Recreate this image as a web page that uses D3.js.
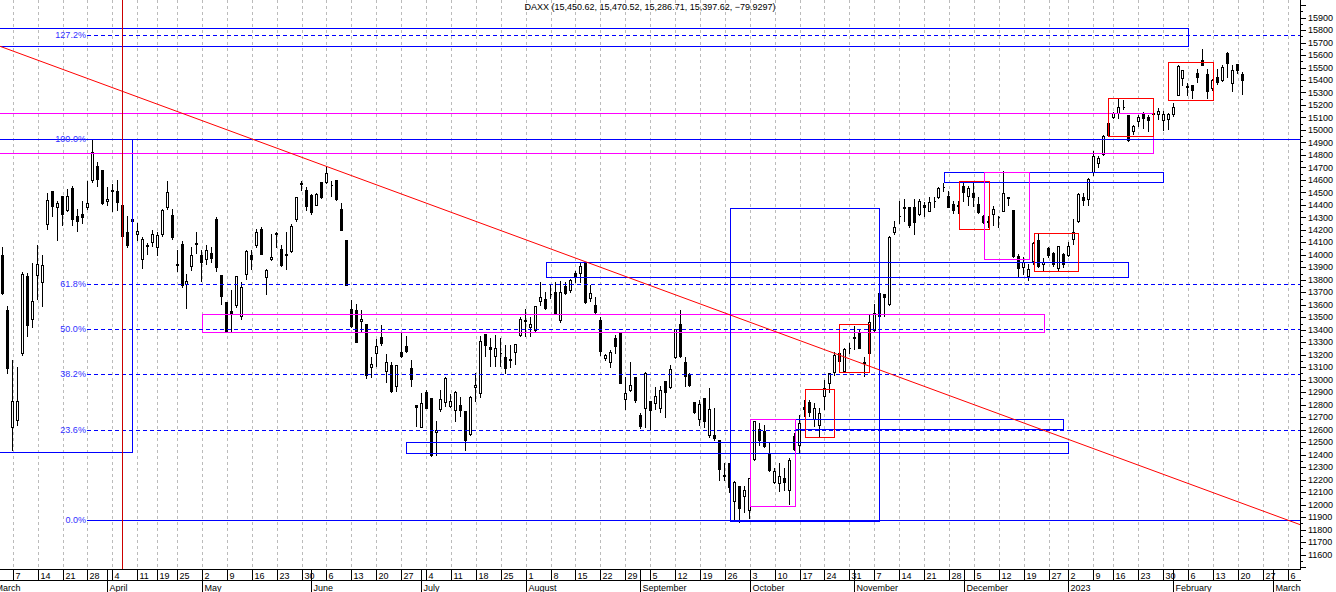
<!DOCTYPE html>
<html lang="en">
<head>
<meta charset="UTF-8">
<title>DAXX daily</title>
<style>
  body { margin: 0; background: #fff; }
  svg { display: block; font-family: "Liberation Sans", Arial, sans-serif; }
  .lbl { font-size: 9px; fill: #000; }
  .fib { font-size: 9px; fill: #2f2fff; }
</style>
</head>
<body>
<svg id="chart" width="1336" height="592"></svg>
<script src="https://d3js.org/d3.v7.min.js"></script>
<script>
// daily candles, one array per month: [day, open, high, low, close]
const mar22 = [
  [3, 13995, 14069, 13684, 13698], [4, 13560, 13600, 13050, 13094],
  [7, 12620, 13165, 12440, 12832], [8, 12680, 13110, 12640, 12831], [9, 13210, 13870, 13195, 13847],
  [10, 13830, 13860, 13350, 13442], [11, 13485, 13940, 13420, 13628],
  [14, 13840, 14090, 13650, 13929], [15, 13780, 14010, 13590, 13917], [16, 14250, 14500, 14205, 14440],
  [17, 14508, 14520, 14310, 14388], [18, 14385, 14440, 14120, 14413],
  [21, 14468, 14480, 14240, 14326], [22, 14362, 14535, 14350, 14474], [23, 14535, 14560, 14235, 14288],
  [24, 14314, 14376, 14190, 14274], [25, 14330, 14442, 14258, 14306],
  [28, 14384, 14600, 14370, 14417], [29, 14596, 14925, 14580, 14820], [30, 14713, 14748, 14548, 14606],
  [31, 14681, 14690, 14410, 14415]
];
const apr22 = [
  [1, 14430, 14548, 14400, 14446],
  [4, 14511, 14575, 14350, 14518], [5, 14508, 14607, 14362, 14424], [6, 14402, 14440, 14043, 14152],
  [7, 14182, 14322, 14060, 14078], [8, 14270, 14330, 14190, 14284],
  [11, 14168, 14262, 14117, 14193], [12, 13965, 14150, 13897, 14124], [13, 14070, 14101, 14003, 14076],
  [14, 14101, 14203, 14069, 14163],
  [19, 14064, 14190, 13995, 14157], [20, 14163, 14375, 14150, 14362], [21, 14384, 14602, 14370, 14502],
  [22, 14322, 14378, 14130, 14142],
  [25, 13915, 14043, 13870, 13924], [26, 14088, 14117, 13745, 13756], [27, 13764, 13857, 13578, 13793],
  [28, 13910, 14069, 13880, 14000], [29, 14090, 14190, 14017, 14098]
];
const may22 = [
  [2, 13995, 14043, 13790, 13940], [3, 13969, 14083, 13923, 14040], [4, 14016, 14070, 13940, 13971],
  [5, 14288, 14309, 13870, 13903], [6, 13836, 13845, 13604, 13674],
  [9, 13623, 13630, 13380, 13381], [10, 13551, 13724, 13378, 13535], [11, 13596, 13840, 13580, 13828],
  [12, 13511, 13790, 13490, 13739], [13, 13844, 14043, 13804, 14027],
  [16, 13995, 14043, 13883, 13964], [17, 14075, 14212, 14060, 14185], [18, 14203, 14230, 14003, 14008],
  [19, 13825, 13895, 13684, 13882], [20, 13969, 14171, 13960, 13982],
  [23, 14170, 14189, 14064, 14175], [24, 14043, 14083, 13910, 13919], [25, 14000, 14189, 13883, 14008],
  [26, 14030, 14256, 14020, 14231], [27, 14288, 14475, 14270, 14462],
  [30, 14570, 14596, 14517, 14575], [31, 14522, 14549, 14362, 14388]
];
const jun22 = [
  [1, 14482, 14495, 14330, 14340], [2, 14402, 14500, 14395, 14485], [3, 14580, 14588, 14455, 14460],
  [6, 14580, 14708, 14575, 14653], [7, 14560, 14596, 14469, 14556], [8, 14601, 14607, 14440, 14446],
  [9, 14368, 14420, 14195, 14198], [10, 14115, 14123, 13756, 13761],
  [13, 13570, 13650, 13420, 13427], [14, 13556, 13617, 13300, 13304], [15, 13470, 13564, 13378, 13483],
  [16, 13445, 13458, 13011, 13038], [17, 13099, 13192, 13019, 13126],
  [20, 13210, 13330, 13107, 13266], [21, 13338, 13450, 13280, 13292], [22, 13072, 13210, 12979, 13145],
  [23, 13120, 13152, 12905, 12912], [24, 12952, 13125, 12912, 13118],
  [27, 13224, 13383, 13180, 13186], [28, 13266, 13357, 13225, 13231], [29, 13091, 13165, 12952, 13003],
  [30, 12800, 12806, 12633, 12784]
];
const jul22 = [
  [1, 12625, 12899, 12620, 12813],
  [4, 12905, 12926, 12770, 12773], [5, 12851, 12860, 12390, 12401], [6, 12580, 12681, 12400, 12595],
  [7, 12766, 12926, 12750, 12843], [8, 12819, 13030, 12793, 13015],
  [11, 12793, 12890, 12780, 12832], [12, 12761, 12915, 12673, 12905], [13, 12798, 12870, 12710, 12756],
  [14, 12753, 12760, 12440, 12520], [15, 12567, 12880, 12560, 12864],
  [18, 12939, 13059, 12833, 12959], [19, 12891, 13359, 12860, 13308], [20, 13365, 13370, 13192, 13281],
  [21, 13262, 13338, 13112, 13246], [22, 13186, 13365, 13112, 13254],
  [25, 13215, 13338, 13112, 13210], [26, 13178, 13285, 13054, 13097], [27, 13160, 13285, 13099, 13166],
  [28, 13218, 13295, 13125, 13282], [29, 13359, 13511, 13346, 13484]
];
const aug22 = [
  [1, 13470, 13578, 13346, 13479], [2, 13426, 13511, 13346, 13449], [3, 13399, 13600, 13390, 13587],
  [4, 13631, 13790, 13596, 13662], [5, 13644, 13710, 13565, 13574],
  [8, 13690, 13777, 13657, 13687], [9, 13705, 13790, 13525, 13535], [10, 13476, 13798, 13463, 13700],
  [11, 13750, 13790, 13690, 13694], [12, 13716, 13817, 13705, 13795],
  [15, 13851, 13880, 13780, 13830], [16, 13857, 13940, 13780, 13910], [17, 13937, 13947, 13615, 13626],
  [18, 13652, 13764, 13630, 13697], [19, 13596, 13671, 13532, 13544],
  [22, 13476, 13511, 13197, 13231], [23, 13170, 13215, 13160, 13194], [24, 13139, 13245, 13099, 13221],
  [25, 13333, 13365, 13213, 13272], [26, 13378, 13385, 12970, 12971],
  [29, 12846, 13032, 12766, 12892], [30, 12920, 13152, 12910, 12961], [31, 13019, 13030, 12820, 12835]
];
const sep22 = [
  [1, 12718, 12740, 12612, 12631], [2, 12772, 13072, 12620, 13050],
  [5, 12827, 12833, 12600, 12761], [6, 12814, 12952, 12766, 12871], [7, 12772, 12958, 12740, 12915],
  [8, 12987, 12992, 12700, 12904], [9, 12939, 13125, 12930, 13088],
  [12, 13178, 13410, 13170, 13403], [13, 13445, 13570, 13180, 13189], [14, 13139, 13192, 12952, 13028],
  [15, 13045, 13060, 12950, 12956], [16, 12819, 12830, 12730, 12741],
  [19, 12686, 12845, 12640, 12803], [20, 12851, 12860, 12620, 12671], [21, 12559, 12939, 12540, 12767],
  [22, 12560, 12780, 12520, 12531], [23, 12514, 12527, 12194, 12284],
  [26, 12240, 12341, 12194, 12228], [27, 12335, 12340, 12100, 12140], [28, 12027, 12200, 11875, 12184],
  [29, 12149, 12160, 11862, 11976], [30, 12067, 12155, 11942, 12114]
];
const oct22 = [
  [3, 11960, 12220, 11894, 12209], [4, 12367, 12680, 12360, 12671], [5, 12607, 12660, 12474, 12517],
  [6, 12593, 12646, 12465, 12471], [7, 12415, 12500, 12265, 12273],
  [10, 12181, 12300, 12170, 12272], [11, 12173, 12341, 12107, 12229], [12, 12213, 12300, 12115, 12181],
  [13, 12115, 12380, 12008, 12359], [14, 12548, 12580, 12440, 12447],
  [17, 12474, 12727, 12420, 12652], [18, 12780, 12846, 12713, 12765], [19, 12819, 12846, 12713, 12745],
  [20, 12686, 12819, 12633, 12772], [21, 12641, 12780, 12553, 12732],
  [24, 12873, 13006, 12766, 12934], [25, 12971, 13065, 12900, 13052], [26, 13059, 13232, 13040, 13195],
  [27, 13152, 13250, 13140, 13211], [28, 13072, 13260, 13060, 13243],
  [31, 13250, 13300, 13210, 13253]
];
const nov22 = [
  [1, 13330, 13436, 13245, 13338], [2, 13373, 13405, 13250, 13257], [3, 13140, 13192, 13032, 13130],
  [4, 13210, 13538, 13200, 13460],
  [7, 13399, 13617, 13390, 13533], [8, 13511, 13700, 13500, 13692], [9, 13690, 13697, 13511, 13666],
  [10, 13609, 14160, 13600, 14146], [11, 14181, 14277, 14170, 14224],
  [14, 14310, 14442, 14256, 14313], [15, 14375, 14455, 14269, 14379], [16, 14381, 14390, 14225, 14235],
  [17, 14381, 14455, 14163, 14266], [18, 14328, 14455, 14320, 14431],
  [21, 14400, 14429, 14309, 14380], [22, 14354, 14468, 14348, 14422], [23, 14430, 14468, 14380, 14428],
  [24, 14461, 14550, 14455, 14539], [25, 14545, 14580, 14508, 14541],
  [28, 14474, 14522, 14380, 14383], [29, 14407, 14442, 14335, 14355], [30, 14390, 14442, 14335, 14397]
];
const dec22 = [
  [1, 14548, 14588, 14429, 14501], [2, 14474, 14562, 14402, 14535],
  [5, 14495, 14580, 14389, 14461], [6, 14410, 14474, 14335, 14343], [7, 14314, 14330, 14255, 14261],
  [8, 14270, 14322, 14220, 14264], [9, 14328, 14402, 14235, 14370],
  [12, 14300, 14322, 14220, 14306], [13, 14354, 14676, 14350, 14498], [14, 14455, 14474, 14400, 14460],
  [15, 14357, 14365, 13980, 13987], [16, 13990, 14011, 13830, 13893],
  [19, 13900, 13990, 13850, 13943], [20, 13830, 13937, 13797, 13885], [21, 13950, 14110, 13930, 14098],
  [22, 14115, 14176, 13905, 13914], [23, 13930, 13980, 13880, 13941],
  [27, 14051, 14070, 13980, 13995], [28, 14016, 14030, 13910, 13925], [29, 13897, 14075, 13880, 14071],
  [30, 14008, 14020, 13900, 13924]
];
const jan23 = [
  [2, 13998, 14110, 13990, 14069], [3, 14123, 14295, 14083, 14181], [4, 14274, 14500, 14265, 14490],
  [5, 14460, 14500, 14400, 14436], [6, 14450, 14620, 14402, 14610],
  [9, 14663, 14837, 14637, 14792], [10, 14738, 14797, 14700, 14775], [11, 14805, 14965, 14800, 14948],
  [12, 14957, 15090, 14950, 15058],
  [16, 15100, 15150, 15092, 15134], [17, 15138, 15256, 15092, 15187], [18, 15185, 15250, 15170, 15181],
  [19, 15122, 15130, 14912, 14920], [20, 14991, 15045, 14970, 15033],
  [23, 15072, 15130, 15034, 15103], [24, 15138, 15152, 15018, 15098], [25, 15104, 15125, 14995, 15082],
  [26, 15128, 15150, 15120, 15132], [27, 15127, 15180, 15086, 15150],
  [30, 15078, 15157, 14997, 15126], [31, 15086, 15144, 15005, 15128]
];
const feb23 = [
  [1, 15127, 15223, 15115, 15181], [2, 15282, 15530, 15276, 15509], [3, 15413, 15485, 15360, 15476],
  [6, 15355, 15383, 15282, 15345], [7, 15360, 15368, 15252, 15321], [8, 15456, 15500, 15383, 15421],
  [9, 15564, 15660, 15520, 15524], [10, 15448, 15500, 15258, 15308],
  [13, 15334, 15413, 15320, 15397], [14, 15427, 15500, 15370, 15380], [15, 15398, 15530, 15390, 15507],
  [16, 15616, 15631, 15427, 15538], [17, 15378, 15529, 15311, 15482],
  [20, 15529, 15535, 15455, 15477.5497], [21, 15450.62, 15470.52, 15286.71, 15397.62]
];
const months = [
  ["2022-03", mar22], ["2022-04", apr22], ["2022-05", may22], ["2022-06", jun22],
  ["2022-07", jul22], ["2022-08", aug22], ["2022-09", sep22], ["2022-10", oct22],
  ["2022-11", nov22], ["2022-12", dec22], ["2023-01", jan23], ["2023-02", feb23]
];

// trading days shown on the axis before and after the candles
const priorDays = ["2022-03-01", "2022-03-02"];
const futureDays = ["2023-02-22", "2023-02-23", "2023-02-24", "2023-02-27", "2023-02-28",
  "2023-03-01", "2023-03-02", "2023-03-03", "2023-03-06", "2023-03-07", "2023-03-08",
  "2023-03-09", "2023-03-10"];

// fibonacci retracement
const fibStart = "2022-03-28";
const fibLow = 11878, fibHigh = 14928;
const fibLevels = [1.272, 1, 0.618, 0.5, 0.382, 0.236, 0];
const fibNames = ["127.2%", "100.0%", "61.8%", "50.0%", "38.2%", "23.6%", "0.0%"];

// trend line through two highs, vertical marker
const trendPoints = [["2022-06-06", 14708], ["2022-08-17", 13945]];
const markerDay = "2022-04-06";

// boxes: [colour, from, to, top price, bottom price]
const boxes = [
  ["#0000ff", "2022-03-01", "2022-04-08", 14928, 12423],
  ["#0000ff", "2022-03-01", "2023-02-06", 15816, 15676],
  ["#ff00ff", "2022-03-01", "2023-01-26", 15133, 14813],
  ["#ff00ff", "2022-05-02", "2022-12-23", 13524, 13380],
  ["#0000ff", "2022-08-05", "2023-01-19", 13940, 13820],
  ["#0000ff", "2022-06-28", "2023-01-02", 12504, 12411],
  ["#0000ff", "2022-10-14", "2022-12-30", 12683, 12605],
  ["#0000ff", "2022-09-27", "2022-11-08", 14373, 11870],
  ["#ff00ff", "2022-10-03", "2022-10-14", 12683, 11989],
  ["#ff0000", "2022-10-18", "2022-10-26", 12925, 12539],
  ["#ff0000", "2022-10-27", "2022-11-04", 13444, 13059],
  ["#0000ff", "2022-11-25", "2023-01-30", 14661, 14583],
  ["#ff0000", "2022-11-30", "2022-12-08", 14591, 14204],
  ["#ff00ff", "2022-12-07", "2022-12-20", 14661, 13964],
  ["#ff0000", "2022-12-21", "2023-01-04", 14172, 13870],
  ["#ff0000", "2023-01-12", "2023-01-26", 15256, 14949],
  ["#ff0000", "2023-01-31", "2023-02-13", 15544, 15237]
];

// ---- build ----
const candles = [];
months.forEach(([ym, rows]) => rows.forEach(r => {
  candles.push({ date: ym + "-" + String(r[0]).padStart(2, "0"), o: r[1], h: r[2], l: r[3], c: r[4] });
}));
const days = priorDays.concat(candles.map(d => d.date), futureDays);
const idx = d => days.indexOf(d) - priorDays.length;

const plotW = 1300, plotH = 569;
const x = d3.scaleLinear().domain([0, candles.length - 1]).range([2.74, 1242.76]);
const y = d3.scaleLinear().domain([11600, 15900]).range([554.53, 17.55]);
const px = v => Math.round(v) + 0.5;

const svg = d3.select("#chart");
svg.append("rect").attr("width", 1336).attr("height", 592).attr("fill", "#fff");
svg.append("clipPath").attr("id", "plot")
  .append("rect").attr("width", plotW).attr("height", plotH);
const g = svg.append("g").attr("clip-path", "url(#plot)").attr("shape-rendering", "crispEdges");

// week / month starts
const parse = d3.timeParse("%Y-%m-%d");
const dayObjs = days.map((d, i) => ({ d: parse(d), i: i - priorDays.length }));
const weekStarts = dayObjs.filter((o, k) => k === 0 || +d3.timeMonday.floor(o.d) !== +d3.timeMonday.floor(dayObjs[k - 1].d));
const monthStarts = dayObjs.filter((o, k) => k === 0 || o.d.getMonth() !== dayObjs[k - 1].d.getMonth());

// vertical grid
g.append("g").selectAll("line").data(weekStarts).join("line")
  .attr("x1", o => px(x(o.i))).attr("x2", o => px(x(o.i)))
  .attr("y1", 0).attr("y2", plotH)
  .attr("stroke", "#bbbbbb").attr("stroke-dasharray", "3,3");

// candles
const cg = g.append("g");
candles.forEach((d, i) => {
  const cx = Math.floor(x(i)) + 0.5;
  cg.append("line").attr("x1", cx).attr("x2", cx)
    .attr("y1", px(y(d.h))).attr("y2", px(y(d.l))).attr("stroke", "#000");
  const top = px(y(Math.max(d.o, d.c))), bot = px(y(Math.min(d.o, d.c)));
  cg.append("path")
    .attr("d", `M${cx - 1},${top}H${cx + 1}V${bot}H${cx - 1}Z`)
    .attr("fill", d.c >= d.o ? "#fff" : "#000").attr("stroke", "#000");
});

// boxes
g.append("g").selectAll("rect").data(boxes).join("rect")
  .attr("x", b => px(x(idx(b[1]))))
  .attr("y", b => px(y(b[3])))
  .attr("width", b => Math.round(x(idx(b[2]))) - Math.round(x(idx(b[1]))))
  .attr("height", b => Math.round(y(b[4])) - Math.round(y(b[3])))
  .attr("fill", "none").attr("stroke", b => b[0]).attr("stroke-width", 1.2);

// fibonacci lines and labels
const fx = x(idx(fibStart));
fibLevels.forEach((lv, k) => {
  const yy = px(y(fibLow + lv * (fibHigh - fibLow)));
  g.append("line").attr("x1", fx).attr("x2", plotW).attr("y1", yy).attr("y2", yy)
    .attr("stroke", "#0000ff")
    .attr("stroke-dasharray", lv === 0 || lv === 1 ? null : "4,3");
  g.append("text").attr("class", "fib").attr("x", fx - 1.5).attr("y", yy).attr("dy", "0.33em")
    .attr("text-anchor", "end").text(fibNames[k]);
});

// trend line, extended across the plot
const [p1, p2] = trendPoints.map(p => [idx(p[0]), p[1]]);
const slope = (p2[1] - p1[1]) / (p2[0] - p1[0]);
const ta = x.invert(0), tb = x.invert(plotW);
g.append("line")
  .attr("x1", x(ta)).attr("y1", y(p1[1] + slope * (ta - p1[0])))
  .attr("x2", x(tb)).attr("y2", y(p1[1] + slope * (tb - p1[0])))
  .attr("stroke", "#ff0000").attr("shape-rendering", "auto");

// vertical marker
const mx = Math.floor(x(idx(markerDay))) + 0.5;
g.append("line").attr("x1", mx).attr("x2", mx).attr("y1", 0).attr("y2", plotH).attr("stroke", "#cc0000");

// ---- price axis ----
const ax = svg.append("g").attr("shape-rendering", "crispEdges");
ax.append("line").attr("x1", plotW + 0.5).attr("x2", plotW + 0.5).attr("y1", 0).attr("y2", plotH).attr("stroke", "#000");
d3.range(11500, 16001, 50).forEach(v => {
  const major = v % 100 === 0;
  ax.append("line").attr("x1", plotW).attr("x2", plotW + (major ? 6 : 3))
    .attr("y1", px(y(v))).attr("y2", px(y(v))).attr("stroke", "#000");
  if (major && v >= 11600 && v <= 15900) {
    ax.append("text").attr("class", "lbl").attr("x", plotW + 8).attr("y", y(v)).attr("dy", "0.35em").text(v);
  }
});

// ---- time axis ----
const tAx = svg.append("g").attr("shape-rendering", "crispEdges");
[plotH + 0.5, 580.5].forEach(yy => tAx.append("line").attr("x1", 0).attr("x2", plotW + 1)
  .attr("y1", yy).attr("y2", yy).attr("stroke", "#000"));
weekStarts.filter(o => x(o.i) > 0).forEach(o => {
  const sx = px(x(o.i));
  tAx.append("line").attr("x1", sx).attr("x2", sx).attr("y1", plotH).attr("y2", 580).attr("stroke", "#000");
  tAx.append("text").attr("class", "lbl").attr("x", sx + 2).attr("y", 578.5).text(o.d.getDate());
});
const monthName = d3.timeFormat("%B");
monthStarts.forEach(o => {
  const sx = px(x(o.i));
  tAx.append("line").attr("x1", sx).attr("x2", sx).attr("y1", plotH).attr("y2", 592).attr("stroke", "#000");
  tAx.append("text").attr("class", "lbl").attr("x", sx + 2).attr("y", 590.5)
    .text(o.d.getMonth() === 0 ? o.d.getFullYear() : monthName(o.d));
});

// ---- title ----
const last = candles[candles.length - 1], prev = candles[candles.length - 2];
const f2 = d3.format(",.2f");
svg.append("text").attr("class", "lbl").attr("x", 650).attr("y", 10).attr("text-anchor", "middle")
  .text(`DAXX (${f2(last.o)}, ${f2(last.h)}, ${f2(last.l)}, ${f2(last.c)}, ${d3.format(".4f")(last.c - prev.c)})`);
</script>
</body>
</html>
